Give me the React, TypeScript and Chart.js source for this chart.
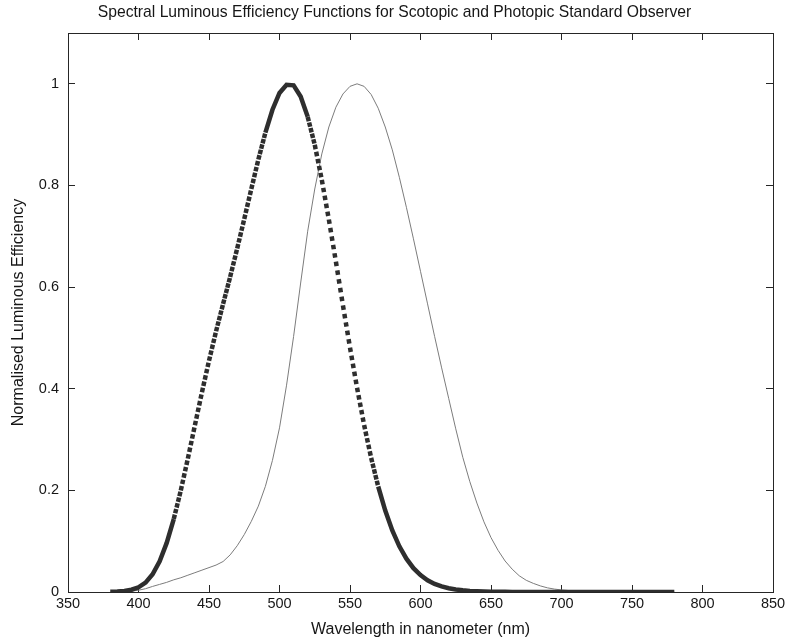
import React, { useEffect, useRef } from 'react';
import { Chart, registerables } from 'chart.js';

Chart.register(...registerables);

const TITLE = 'Spectral Luminous Efficiency Functions for Scotopic and Photopic Standard Observer';
const X_TITLE = 'Wavelength in nanometer (nm)';
const Y_TITLE = 'Normalised Luminous Efficiency';

const WAVELENGTHS = [
  380, 385, 390, 395, 400, 405, 410, 415, 420, 425, 430, 435, 440, 445, 450, 455,
  460, 465, 470, 475, 480, 485, 490, 495, 500, 505, 510, 515, 520, 525, 530, 535,
  540, 545, 550, 555, 560, 565, 570, 575, 580, 585, 590, 595, 600, 605, 610, 615,
  620, 625, 630, 635, 640, 645, 650, 655, 660, 665, 670, 675, 680, 685, 690, 695,
  700, 705, 710, 715, 720, 725, 730, 735, 740, 745, 750, 755, 760, 765, 770, 775, 780,
];

const SCOTOPIC = [
  0.000589, 0.001108, 0.002209, 0.00453, 0.00929, 0.01852, 0.03484, 0.0604, 0.0966, 0.1436,
  0.1998, 0.2625, 0.3281, 0.3931, 0.455, 0.513, 0.567, 0.62, 0.676, 0.734,
  0.793, 0.851, 0.904, 0.949, 0.982, 0.998, 0.997, 0.975, 0.935, 0.88,
  0.811, 0.733, 0.65, 0.564, 0.481, 0.402, 0.3288, 0.2639, 0.2076, 0.1602,
  0.1212, 0.0899, 0.0655, 0.0469, 0.0332, 0.0231, 0.0159, 0.0109, 0.0074, 0.005,
  0.0033, 0.0022, 0.0015, 0.001, 0.0007, 0.0005, 0.0003, 0.0002, 0.00015, 0.0001,
  0.00007, 0.00005, 0.00004, 0.00003, 0.00002, 0.00001, 0.00001, 0.00001, 0.00001, 0.00001,
  0.00001, 0.00001, 0.00001, 0.00001, 0.00001, 0.00001, 0.00001, 0.00001, 0.00001, 0.00001, 0.00001,
];

const PHOTOPIC = [
  0.0002, 0.0004, 0.0008, 0.0018, 0.0035, 0.0065, 0.011, 0.015, 0.019, 0.024,
  0.028, 0.033, 0.038, 0.043, 0.048, 0.053, 0.06, 0.073, 0.091, 0.113,
  0.139, 0.169, 0.208, 0.259, 0.323, 0.407, 0.503, 0.608, 0.71, 0.793,
  0.862, 0.915, 0.954, 0.98, 0.995, 1.0, 0.995, 0.979, 0.952, 0.915,
  0.87, 0.816, 0.757, 0.695, 0.631, 0.567, 0.503, 0.441, 0.381, 0.321,
  0.265, 0.217, 0.175, 0.138, 0.107, 0.082, 0.061, 0.045, 0.032, 0.023,
  0.017, 0.012, 0.0082, 0.0057, 0.0041, 0.0029, 0.0021, 0.0015, 0.00105, 0.00074,
  0.00052, 0.00036, 0.00025, 0.00017, 0.00012, 0.00008, 0.00006, 0.00004, 0.00003, 0.00002, 0.000015,
];

const X_TICKS = [350, 400, 450, 500, 550, 600, 650, 700, 750, 800, 850];
const Y_TICKS = [0, 0.2, 0.4, 0.6, 0.8, 1];

const FONT = 'Liberation Sans, Arial, Helvetica, sans-serif';
const INK = '#161616';
const AXIS = '#262626';

export default function App() {
  const ref = useRef<HTMLCanvasElement | null>(null);

  useEffect(() => {
    document.body.style.margin = '0';
    const canvas = ref.current;
    if (!canvas) return;

    const toPts = (ys: number[]) => WAVELENGTHS.map((x, i) => ({ x, y: ys[i] }));
    const setTicks = (arr: number[]) => (scale: any) => {
      scale.ticks = arr.map((v) => ({ value: v }));
    };
    const gridOpts = { drawOnChartArea: false, tickLength: -7, color: AXIS, lineWidth: 1 };
    const borderOpts = { color: AXIS, width: 1 };

    const chart = new Chart(canvas, {
      type: 'line',
      data: {
        datasets: [
          {
            label: 'Photopic',
            data: toPts(PHOTOPIC),
            borderColor: '#7c7c7c',
            borderWidth: 1,
            pointRadius: 0,
            tension: 0,
            order: 2,
          },
          {
            label: 'Scotopic',
            data: toPts(SCOTOPIC),
            borderColor: '#2e2e2e',
            borderWidth: 4.5,
            pointRadius: 0,
            tension: 0,
            borderCapStyle: 'butt',
            order: 1,
            segment: {
              borderDash: (ctx: any) => {
                const nm = WAVELENGTHS[ctx.p1DataIndex] - WAVELENGTHS[ctx.p0DataIndex];
                const len = Math.hypot(ctx.p1.x - ctx.p0.x, ctx.p1.y - ctx.p0.y) / nm;
                return len > 5.5 ? [4.5, len - 4.5] : undefined;
              },
            },
          },
        ],
      },
      options: {
        animation: false,
        responsive: false,
        devicePixelRatio: 1,
        layout: { padding: { left: 0, right: 0, top: 0, bottom: 0 } },
        plugins: {
          legend: { display: false },
          tooltip: { enabled: false },
          title: {
            display: true,
            text: TITLE,
            color: INK,
            font: { family: FONT, size: 15.7, weight: 'normal', lineHeight: 1.2 },
            padding: { top: 3, bottom: 11.16 },
          },
        },
        scales: {
          x: {
            type: 'linear',
            position: 'bottom',
            min: 350,
            max: 850,
            afterBuildTicks: setTicks(X_TICKS),
            afterFit: (s: any) => { s.height = 51; s.paddingLeft = 0; s.paddingRight = 0; },
            grid: gridOpts,
            border: borderOpts,
            ticks: {
              color: INK,
              font: { family: FONT, size: 14.5 },
              padding: 10,
              maxRotation: 0,
              autoSkip: false,
              callback: (v: any) => String(v),
            },
            title: {
              display: true,
              text: X_TITLE,
              color: INK,
              font: { family: FONT, size: 16, lineHeight: 1.2 },
              padding: { top: 4, bottom: 3.4 },
            },
          },
          x2: {
            type: 'linear',
            position: 'top',
            min: 350,
            max: 850,
            afterBuildTicks: setTicks(X_TICKS),
            afterFit: (s: any) => { s.height = 0; s.paddingLeft = 0; s.paddingRight = 0; },
            grid: gridOpts,
            border: borderOpts,
            ticks: { display: false },
          },
          y: {
            type: 'linear',
            position: 'left',
            min: 0,
            max: 1.1,
            afterBuildTicks: setTicks(Y_TICKS),
            afterFit: (s: any) => { s.width = 68; },
            grid: gridOpts,
            border: borderOpts,
            ticks: {
              color: INK,
              font: { family: FONT, size: 14.5 },
              padding: 16,
              autoSkip: false,
              callback: (v: any) => String(v),
            },
            title: {
              display: true,
              text: Y_TITLE,
              color: INK,
              font: { family: FONT, size: 16, lineHeight: 1.2 },
              padding: { top: 9.4, bottom: 4 },
            },
          },
          y2: {
            type: 'linear',
            position: 'right',
            min: 0,
            max: 1.1,
            afterBuildTicks: setTicks(Y_TICKS),
            afterFit: (s: any) => { s.width = 16; },
            grid: gridOpts,
            border: borderOpts,
            ticks: { display: false },
          },
        },
      } as any,
    });

    return () => chart.destroy();
  }, []);

  return (
    <div style={{ width: 789, height: 643, background: '#ffffff' }}>
      <canvas ref={ref} width={789} height={643} style={{ display: 'block', width: 789, height: 643 }} />
    </div>
  );
}
